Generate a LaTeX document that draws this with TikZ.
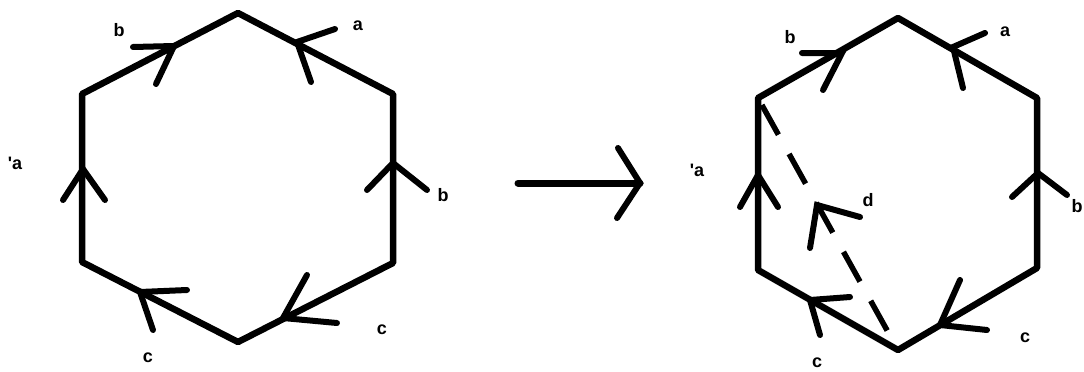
\documentclass[tikz,border=0pt]{standalone}
\usepackage{fontspec}
\setmainfont{Liberation Sans}
\begin{document}
\begin{tikzpicture}[x=1pt,y=-1pt,
  edge/.style={line width=6.5pt, line join=round, line cap=round},
  chev/.style={line width=6pt, line cap=round, line join=miter},
  dashline/.style={line width=5.5pt, dash pattern=on 34pt off 22pt, dash phase=-8pt},
  lbl/.style={font=\fontsize{18}{18}\selectfont\bfseries, inner sep=0pt}]
\useasboundingbox (0,0) rectangle (1084,372);
% ---------- left hexagon ----------
\coordinate (LT) at (238,13);
\coordinate (LUL) at (82,94);
\coordinate (LLL) at (82,262);
\coordinate (LB) at (238,342);
\coordinate (LLR) at (393,263);
\coordinate (LUR) at (393,94);
\draw[edge] (LT) -- (LUL) -- (LLL) -- (LB) -- (LLR) -- (LUR) -- cycle;
% chevrons
\coordinate (a1t) at (174,46); \coordinate (a1p) at (133,47); \coordinate (a1q) at (156,84);
\draw[chev] (a1p) -- (a1t) -- (a1q);
\coordinate (a2t) at (297,42); \coordinate (a2p) at (335,29); \coordinate (a2q) at (311,82);
\draw[chev] (a2p) -- (a2t) -- (a2q);
\coordinate (a3t) at (83,169); \coordinate (a3p) at (63,200); \coordinate (a3q) at (105,200);
\draw[chev] (a3p) -- (a3t) -- (a3q);
\coordinate (a4t) at (393,163); \coordinate (a4p) at (367,190); \coordinate (a4q) at (427,190);
\draw[chev] (a4p) -- (a4t) -- (a4q);
\coordinate (a5t) at (283,318); \coordinate (a5p) at (307,275); \coordinate (a5q) at (337,323);
\draw[chev] (a5p) -- (a5t) -- (a5q);
\coordinate (a6t) at (140,292); \coordinate (a6p) at (187,290); \coordinate (a6q) at (153,330);
\draw[chev] (a6p) -- (a6t) -- (a6q);
% labels
\node[lbl] (lb1) at (119,30) {b};
\node[lbl] (la1) at (358,26) {a};
\node[lbl] (la2) at (15,163) {\textquotesingle a};
\node[lbl] (lb2) at (443,195) {b};
\node[lbl] (lc1) at (382,330) {c};
\node[lbl] (lc2) at (148,358) {c};
% ---------- middle arrow ----------
\coordinate (ms) at (518,183); \coordinate (me) at (640,183);
\coordinate (mp) at (618,148); \coordinate (mq) at (617,218);
\draw[chev, line width=7pt] (ms) -- (me);
\draw[chev] (mp) -- (me) -- (mq);
% ---------- right hexagon ----------
\coordinate (RT) at (898,18);
\coordinate (RUL) at (758,98);
\coordinate (RLL) at (758,270);
\coordinate (RB) at (898,350);
\coordinate (RLR) at (1037,268);
\coordinate (RUR) at (1037,98);
\draw[edge] (RT) -- (RUL) -- (RLL) -- (RB) -- (RLR) -- (RUR) -- cycle;
\draw[dashline] (RUL) -- (RB);
\coordinate (r1t) at (842,53); \coordinate (r1p) at (802,53); \coordinate (r1q) at (823,90);
\draw[chev] (r1p) -- (r1t) -- (r1q);
\coordinate (r2t) at (953,47); \coordinate (r2p) at (985,33); \coordinate (r2q) at (963,88);
\draw[chev] (r2p) -- (r2t) -- (r2q);
\coordinate (r3t) at (758,175); \coordinate (r3p) at (740,207); \coordinate (r3q) at (778,207);
\draw[chev] (r3p) -- (r3t) -- (r3q);
\coordinate (r4t) at (1038,173); \coordinate (r4p) at (1012,197); \coordinate (r4q) at (1067,195);
\draw[chev] (r4p) -- (r4t) -- (r4q);
\coordinate (r5t) at (940,325); \coordinate (r5p) at (960,280); \coordinate (r5q) at (987,330);
\draw[chev] (r5p) -- (r5t) -- (r5q);
\coordinate (r6t) at (810,300); \coordinate (r6p) at (850,297); \coordinate (r6q) at (820,335);
\draw[chev] (r6p) -- (r6t) -- (r6q);
\coordinate (r7t) at (817,205); \coordinate (r7p) at (860,217); \coordinate (r7q) at (810,248);
\draw[chev] (r7p) -- (r7t) -- (r7q);
% labels
\node[lbl] (rb1) at (790,37) {b};
\node[lbl] (ra1) at (1005,32) {a};
\node[lbl] (ra2) at (697,170) {\textquotesingle a};
\node[lbl] (rb2) at (1077,206) {b};
\node[lbl] (rc1) at (1025,338) {c};
\node[lbl] (rc2) at (817,363) {c};
\node[lbl] (rd) at (868,200) {d};
\end{tikzpicture}
\end{document}
